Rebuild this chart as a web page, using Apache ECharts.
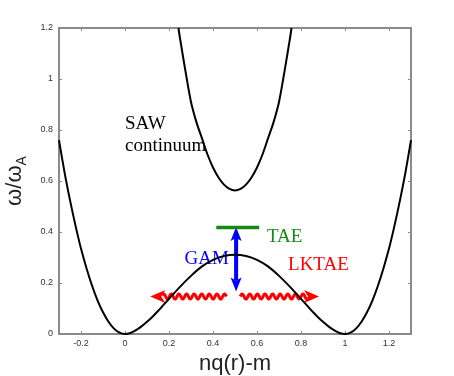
<!DOCTYPE html>
<html>
<head>
<meta charset="utf-8">
<script src="https://cdn.jsdelivr.net/npm/echarts@6/dist/echarts.min.js"></script>
<style>
  html, body { margin: 0; padding: 0; background: #fff; }
  #chart { width: 454px; height: 376px; }
</style>
</head>
<body>
<div id="chart"></div>
<script>
// lower continuum branch
const lowerX = [-0.3, -0.275, -0.25, -0.225, -0.2, -0.175, -0.15, -0.125, -0.1, -0.075, -0.05, -0.025,
  0, 0.025, 0.05, 0.075, 0.1, 0.125, 0.15, 0.175, 0.2, 0.25, 0.3, 0.35, 0.4, 0.45,
  0.5, 0.55, 0.6, 0.65, 0.7, 0.75, 0.8, 0.825, 0.85, 0.875, 0.9, 0.925, 0.95, 0.975,
  1, 1.025, 1.05, 1.075, 1.1, 1.125, 1.15, 1.175, 1.2, 1.225, 1.25, 1.275, 1.3];
const lowerY = [0.76, 0.635, 0.525, 0.425, 0.335, 0.258, 0.19, 0.132, 0.085, 0.048, 0.021, 0.005,
  0, 0.004, 0.015, 0.03, 0.048, 0.068, 0.09, 0.114, 0.138, 0.185, 0.228, 0.265, 0.291, 0.306,
  0.311, 0.306, 0.291, 0.265, 0.228, 0.185, 0.138, 0.114, 0.09, 0.068, 0.048, 0.03, 0.015, 0.004,
  0, 0.005, 0.021, 0.048, 0.085, 0.132, 0.19, 0.258, 0.335, 0.425, 0.525, 0.635, 0.76];

// upper continuum branch
const upperX = [0.243, 0.25, 0.275, 0.3, 0.325, 0.35, 0.375, 0.4, 0.425, 0.45, 0.475, 0.5,
  0.525, 0.55, 0.575, 0.6, 0.625, 0.65, 0.675, 0.7, 0.725, 0.75, 0.757];
const upperY = [1.2, 1.16, 1.03, 0.91, 0.83, 0.767, 0.704, 0.653, 0.614, 0.586, 0.569, 0.563,
  0.569, 0.586, 0.614, 0.653, 0.704, 0.767, 0.83, 0.91, 1.03, 1.16, 1.2];

// TAE frequency level
const taeX = [0.415, 0.61];
const taeY = [0.418, 0.418];

// GAM double arrow: [x, yTop, yBottom]
const gamArrow = [0.505, 0.42, 0.167];

// LKTAE wave packets: [tail x, tip x, y]
const lktaeLeft = [0.461, 0.115, 0.147];
const lktaeRight = [0.524, 0.882, 0.147];

const xTicks = [-0.2, 0, 0.2, 0.4, 0.6, 0.8, 1, 1.2];
const notes = ['SAW\ncontinuum', 'TAE', 'GAM', 'LKTAE'];

const myChart = echarts.init(document.getElementById('chart'));

const axisGray = '#8a8a8a';
const sans = 'Liberation Sans, Arial, sans-serif';
const serif = 'Liberation Serif, Times New Roman, serif';

function arrowHead(tip, dir, len, half, notch) {
  // dir: unit vector pointing toward the tip
  const nx = -dir[1], ny = dir[0];
  const bx = tip[0] - dir[0] * len, by = tip[1] - dir[1] * len;
  return [
    tip,
    [bx + nx * half, by + ny * half],
    [tip[0] - dir[0] * (len - notch), tip[1] - dir[1] * (len - notch)],
    [bx - nx * half, by - ny * half]
  ];
}

const option = {
  animation: false,
  grid: { left: 59, right: 43, top: 28, bottom: 42, outerBoundsMode: 'none' },
  xAxis: [
    {
      type: 'value', min: -0.3, max: 1.3,
      name: 'nq(r)-m', nameLocation: 'middle', nameGap: 14,
      nameTextStyle: { fontSize: 22, fontFamily: sans, color: '#222' },
      axisLine: { onZero: false, lineStyle: { color: axisGray, width: 2 } },
      axisTick: { inside: true, length: 3, customValues: xTicks, lineStyle: { color: axisGray } },
      axisLabel: { customValues: xTicks, fontSize: 9, fontFamily: sans, color: '#333', margin: 5 },
      splitLine: { show: false }
    },
    {
      type: 'value', min: -0.3, max: 1.3, position: 'top',
      axisLine: { onZero: false, lineStyle: { color: axisGray, width: 2 } },
      axisTick: { inside: true, length: 3, customValues: xTicks, lineStyle: { color: axisGray } },
      axisLabel: { show: false },
      splitLine: { show: false }
    }
  ],
  yAxis: [
    {
      type: 'value', min: 0, max: 1.2, interval: 0.2,
      name: '{w|ω/ω}{s|A}', nameLocation: 'middle', nameGap: 26,
      nameTextStyle: {
        color: '#222', fontFamily: sans,
        rich: {
          w: { fontSize: 22, fontFamily: sans, color: '#222' },
          s: { fontSize: 14, fontFamily: sans, color: '#222', padding: [16, 0, 0, 0] }
        }
      },
      axisLine: { show: true, onZero: false, lineStyle: { color: axisGray, width: 2 } },
      axisTick: { inside: true, length: 3, lineStyle: { color: axisGray } },
      axisLabel: { fontSize: 9, fontFamily: sans, color: '#333', margin: 6 },
      splitLine: { show: false }
    },
    {
      type: 'value', min: 0, max: 1.2, interval: 0.2, position: 'right',
      axisLine: { show: true, onZero: false, lineStyle: { color: axisGray, width: 2 } },
      axisTick: { inside: true, length: 3, lineStyle: { color: axisGray } },
      axisLabel: { show: false },
      splitLine: { show: false }
    }
  ],
  series: [
    {
      name: 'lower', type: 'line', smooth: 0.3, showSymbol: false, clip: true,
      lineStyle: { color: '#000', width: 2 },
      data: lowerX.map((x, i) => [x, lowerY[i]])
    },
    {
      name: 'upper', type: 'line', smooth: 0.3, showSymbol: false, clip: true,
      lineStyle: { color: '#000', width: 2 },
      data: upperX.map((x, i) => [x, upperY[i]])
    },
    {
      name: 'TAE level', type: 'line', showSymbol: false,
      lineStyle: { color: '#138a13', width: 3.5 },
      data: taeX.map((x, i) => [x, taeY[i]])
    },
    {
      name: 'GAM', type: 'custom',
      data: [gamArrow],
      renderItem: function (params, api) {
        const top = api.coord([api.value(0), api.value(1)]);
        const bot = api.coord([api.value(0), api.value(2)]);
        const len = 14, half = 5.5;
        return {
          type: 'group',
          children: [
            {
              type: 'line',
              shape: { x1: top[0], y1: top[1] + len - 3, x2: bot[0], y2: bot[1] - len + 3 },
              style: { stroke: '#0000ff', lineWidth: 4 }
            },
            { type: 'polygon', shape: { points: arrowHead(top, [0, -1], len, half, 3) }, style: { fill: '#0000ff' } },
            { type: 'polygon', shape: { points: arrowHead(bot, [0, 1], len, half, 3) }, style: { fill: '#0000ff' } }
          ]
        };
      }
    },
    {
      name: 'LKTAE', type: 'custom',
      data: [lktaeLeft, lktaeRight],
      renderItem: function (params, api) {
        const tail = api.coord([api.value(0), api.value(2)]);
        const tip = api.coord([api.value(1), api.value(2)]);
        const sgn = tip[0] > tail[0] ? 1 : -1;
        const len = 15, half = 6.5;
        const waveEnd = tip[0] - sgn * (len - 3);
        const pts = [];
        const n = Math.abs(waveEnd - tail[0]);
        for (let s = 0; s <= n; s += 0.5) {
          pts.push([tail[0] + sgn * s, tail[1] - 2.5 * Math.sin(2 * Math.PI * s / 7.6)]);
        }
        return {
          type: 'group',
          children: [
            { type: 'polyline', shape: { points: pts }, style: { stroke: '#ff0000', lineWidth: 3, fill: null } },
            { type: 'polygon', shape: { points: arrowHead(tip, [sgn, 0], len, half, 4) }, style: { fill: '#ff0000' } }
          ]
        };
      }
    },
    {
      name: 'notes', type: 'scatter', symbolSize: 0,
      itemStyle: { opacity: 1 },
      label: {
        show: true, position: 'right', distance: 0, opacity: 1,
        fontFamily: serif, fontSize: 19, lineHeight: 22,
        formatter: function (p) { return p.data.text; }
      },
      data: [
        { value: [0, 0.779], text: notes[0], label: { color: '#000' } },
        { value: [0.645, 0.382], text: notes[1], label: { color: '#138a13' } },
        { value: [0.271, 0.293], text: notes[2], label: { color: '#0000ff' } },
        { value: [0.741, 0.271], text: notes[3], label: { color: '#ff0000' } }
      ]
    }
  ]
};

myChart.setOption(option);
</script>
</body>
</html>
